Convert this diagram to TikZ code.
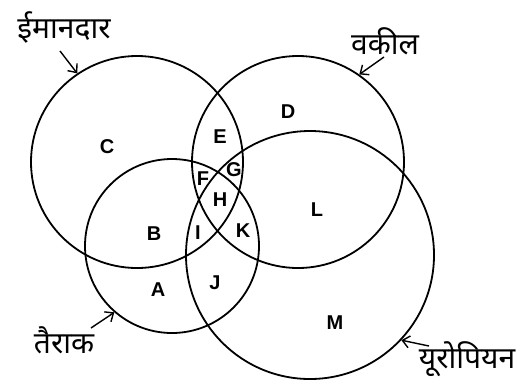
\documentclass[tikz,border=0pt]{standalone}
\usepackage{fontspec}
\setmainfont{Liberation Sans}
\newfontfamily\hindi[Script=Devanagari]{Noto Sans}
\usetikzlibrary{arrows.meta}
\begin{document}
\begin{tikzpicture}[x=1pt,y=-1pt,
  setcircle/.style={draw,circle,line width=1.8pt,inner sep=0pt,minimum size=#1},
  region/.style={font=\bfseries\fontsize{20}{20}\selectfont,inner sep=0pt},
  setname/.style={font=\hindi\fontsize{30}{30}\selectfont,inner sep=0pt},
  pointer/.style={line width=1.4pt,-{Straight Barb[length=7pt,width=12pt,line width=1.4pt]}}]
\useasboundingbox (0,0) rectangle (529,381);
\node[setcircle=212pt] (honest) at (137,162) {};
\node[setcircle=212pt] (lawyer) at (298,162) {};
\node[setcircle=174pt] (swimmer) at (172,246) {};
\node[setcircle=248pt] (euro) at (310,255) {};
% region labels
\node[region] (rC) at (107,147) {C};
\node[region] (rD) at (288,112) {D};
\node[region] (rE) at (220,137) {E};
\node[region] (rG) at (234,170) {G};
\node[region] (rF) at (203,179) {F};
\node[region] (rH) at (220,200) {H};
\node[region] (rI) at (198,233) {I};
\node[region] (rK) at (243,231) {K};
\node[region] (rB) at (154,234) {B};
\node[region] (rL) at (317,210) {L};
\node[region] (rA) at (158,290) {A};
\node[region] (rJ) at (215,283) {J};
\node[region] (rM) at (335,323) {M};
% set names
\node[setname,anchor=base] (nHonest) at (64,38) {ईमानदार};
\node[setname,anchor=base] (nLawyer) at (385,54) {वकील};
\node[setname,anchor=base] (nSwimmer) at (64,353) {तैराक};
\node[setname,anchor=base] (nEuro) at (467,368) {यूरोपियन};
% pointers
\coordinate (pH) at (60,51);
\coordinate (pL) at (384,57);
\coordinate (pS) at (91,328);
\coordinate (pE) at (429,346);
\draw[pointer] (pH) -- (honest.124.4);
\draw[pointer] (pL) -- (lawyer.55.1);
\draw[pointer] (pS) -- (swimmer.229.6);
\draw[pointer] (pE) -- (euro.-43);
\end{tikzpicture}
\end{document}
